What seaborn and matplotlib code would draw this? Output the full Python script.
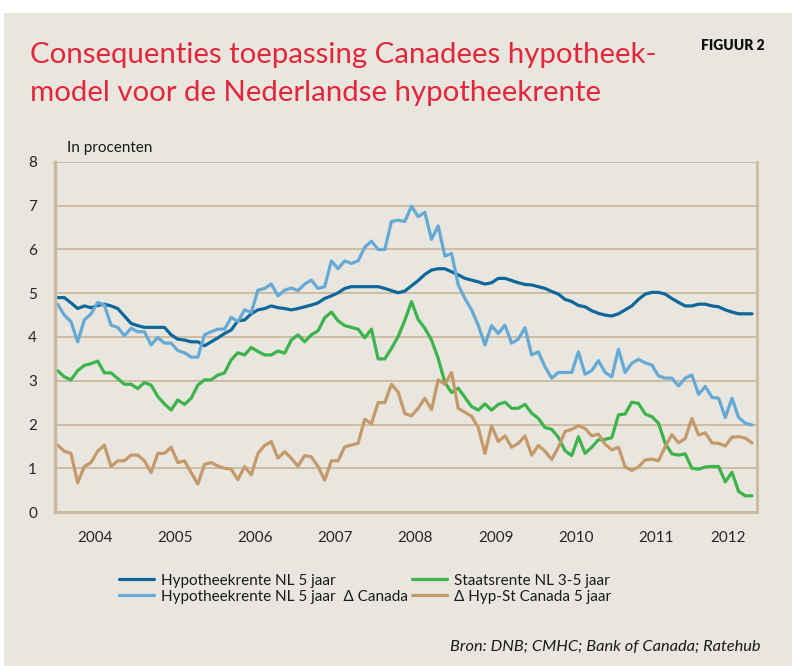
import matplotlib
matplotlib.use("Agg")
import matplotlib.pyplot as plt
from matplotlib.patches import Rectangle
import seaborn as sns
import pandas as pd
import numpy as np

# monthly data, Jan 2004 .. Sep 2012
hyp_nl = [4.90, 4.90, 4.78, 4.65, 4.71, 4.67, 4.72, 4.75, 4.71, 4.65,
          4.48, 4.31, 4.26, 4.22, 4.22, 4.22, 4.22, 4.05, 3.95, 3.93,
          3.89, 3.89, 3.80, 3.89, 3.98, 4.08, 4.16, 4.37, 4.39, 4.53,
          4.62, 4.65, 4.71, 4.67, 4.65, 4.62, 4.65, 4.69, 4.73, 4.78,
          4.88, 4.94, 5.01, 5.11, 5.15, 5.15, 5.15, 5.15, 5.15, 5.11,
          5.06, 5.01, 5.05, 5.17, 5.29, 5.43, 5.53, 5.56, 5.56, 5.49,
          5.42, 5.34, 5.30, 5.26, 5.21, 5.24, 5.34, 5.34, 5.29, 5.24,
          5.20, 5.19, 5.15, 5.11, 5.04, 4.98, 4.86, 4.81, 4.72, 4.69,
          4.60, 4.54, 4.50, 4.48, 4.53, 4.62, 4.71, 4.86, 4.98, 5.02,
          5.02, 4.98, 4.88, 4.79, 4.71, 4.71, 4.75, 4.75, 4.71, 4.69,
          4.62, 4.57, 4.53, 4.53, 4.53]
hyp_nl_ca = [4.75, 4.50, 4.35, 3.89, 4.39, 4.53, 4.79, 4.73, 4.27, 4.22,
             4.03, 4.20, 4.12, 4.12, 3.82, 3.99, 3.86, 3.86, 3.69, 3.64,
             3.54, 3.54, 4.05, 4.12, 4.18, 4.18, 4.45, 4.35, 4.62, 4.56,
             5.07, 5.11, 5.21, 4.94, 5.07, 5.12, 5.06, 5.21, 5.30, 5.11,
             5.15, 5.74, 5.56, 5.74, 5.68, 5.74, 6.05, 6.19, 6.00, 6.00,
             6.64, 6.67, 6.64, 6.99, 6.75, 6.85, 6.23, 6.54, 5.85, 5.91,
             5.19, 4.88, 4.62, 4.27, 3.82, 4.26, 4.08, 4.27, 3.86, 3.95,
             4.21, 3.59, 3.66, 3.32, 3.06, 3.19, 3.19, 3.19, 3.66, 3.15,
             3.23, 3.46, 3.19, 3.09, 3.72, 3.19, 3.40, 3.49, 3.41, 3.36,
             3.11, 3.06, 3.06, 2.88, 3.06, 3.13, 2.69, 2.87, 2.62, 2.60,
             2.16, 2.60, 2.16, 2.03, 1.99]
staat_nl = [3.23, 3.09, 3.02, 3.23, 3.35, 3.39, 3.45, 3.18, 3.18, 3.05,
            2.92, 2.92, 2.82, 2.96, 2.90, 2.64, 2.47, 2.33, 2.56, 2.46,
            2.60, 2.90, 3.02, 3.02, 3.13, 3.18, 3.48, 3.64, 3.59, 3.76,
            3.67, 3.59, 3.59, 3.68, 3.63, 3.93, 4.05, 3.89, 4.05, 4.14,
            4.44, 4.57, 4.37, 4.26, 4.22, 4.18, 3.98, 4.18, 3.50, 3.50,
            3.74, 4.01, 4.38, 4.81, 4.40, 4.20, 3.93, 3.51, 2.96, 2.73,
            2.83, 2.62, 2.41, 2.33, 2.47, 2.33, 2.46, 2.51, 2.37, 2.37,
            2.46, 2.26, 2.14, 1.93, 1.89, 1.71, 1.40, 1.29, 1.72, 1.34,
            1.48, 1.65, 1.66, 1.70, 2.22, 2.24, 2.51, 2.48, 2.24, 2.18,
            2.03, 1.57, 1.33, 1.30, 1.33, 1.00, 0.98, 1.03, 1.04, 1.04,
            0.69, 0.91, 0.47, 0.37, 0.37]
delta_ca = [1.53, 1.39, 1.34, 0.67, 1.04, 1.13, 1.39, 1.53, 1.04, 1.17,
            1.17, 1.30, 1.30, 1.17, 0.90, 1.34, 1.34, 1.48, 1.13, 1.17,
            0.90, 0.64, 1.09, 1.13, 1.05, 1.00, 0.98, 0.74, 1.04, 0.85,
            1.34, 1.52, 1.61, 1.23, 1.38, 1.23, 1.05, 1.29, 1.26, 1.04,
            0.73, 1.17, 1.17, 1.49, 1.53, 1.57, 2.12, 2.02, 2.50, 2.50,
            2.92, 2.74, 2.25, 2.20, 2.37, 2.60, 2.34, 3.02, 2.92, 3.19,
            2.37, 2.28, 2.19, 1.93, 1.34, 1.97, 1.61, 1.74, 1.48, 1.57,
            1.74, 1.30, 1.52, 1.39, 1.20, 1.48, 1.84, 1.89, 1.97, 1.91,
            1.74, 1.78, 1.55, 1.42, 1.48, 1.03, 0.95, 1.03, 1.19, 1.21,
            1.17, 1.49, 1.77, 1.58, 1.68, 2.14, 1.76, 1.81, 1.58, 1.57,
            1.51, 1.71, 1.72, 1.69, 1.58]

labels = ["Hypotheekrente NL 5 jaar",
          "Hypotheekrente NL 5 jaar  \u0394 Canada",
          "Staatsrente NL 3-5 jaar",
          "\u0394 Hyp-St Canada 5 jaar"]
colors = ["#0D679B", "#65AAD6", "#3CB44B", "#C59A6A"]
years = list(range(2004, 2013))

months = np.arange(len(hyp_nl))
t = 2004 + (months + 0.4) / 12
df = pd.concat([pd.DataFrame({"t": t, "value": v, "serie": lab})
                for v, lab in zip([hyp_nl, hyp_nl_ca, staat_nl, delta_ca], labels)])

bg = "#E8E6DE"
grid_c = "#C9B99E"
sns.set_theme(style="white")
plt.rcParams['font.family'] = ['Lato', 'DejaVu Sans']
plt.rcParams['text.color'] = '#1a1a1a'

fig = plt.figure(figsize=(7.92, 6.66), dpi=100, facecolor="white")
fig.patches.append(Rectangle((0.005, 0), 0.995, 0.9805, transform=fig.transFigure,
                             facecolor=bg, edgecolor="none", zorder=-10))
ax = fig.add_axes([0.0694, 0.2312, 0.8864, 0.5256])
ax.set_facecolor(bg)

sns.lineplot(data=df, x="t", y="value", hue="serie", hue_order=labels,
             palette=dict(zip(labels, colors)), linewidth=2.3, ax=ax,
             legend=False, sort=False)

ax.set_ylim(0, 8)
ax.set_xlim(2004, 2004 + 105.15 / 12)
ax.set_yticks(range(0, 9))
ax.yaxis.grid(True, color=grid_c, linewidth=1.3)
ax.set_axisbelow(True)
ax.set_xlabel("")
ax.set_ylabel("")
ax.tick_params(axis="y", length=0, pad=13, labelsize=11)

for side in ["left", "right", "bottom"]:
    ax.spines[side].set_color(grid_c)
    ax.spines[side].set_linewidth(2)
ax.spines["top"].set_visible(False)
ax.spines["left"].set_linewidth(2.5)

ax.set_xticks(years)
ax.set_xticklabels([])
ax.set_xticks(np.arange(2004, 2012.8, 1 / 12), minor=True)
ax.tick_params(axis="x", which="major", length=11, width=1.2, color=grid_c)
ax.tick_params(axis="x", which="minor", length=4.5, width=1, color=grid_c)

sec = ax.secondary_xaxis("bottom")
sec.set_xticks([y + 0.5 for y in years[:-1]] + [2012.4])
sec.set_xticklabels([str(y) for y in years])
sec.tick_params(length=0, pad=14, labelsize=11)
sec.spines["bottom"].set_visible(False)

fig.text(0.038, 0.905, "Consequenties toepassing Canadees hypotheek-",
         color="#E3263A", fontsize=21.2, va="baseline")
fig.text(0.038, 0.849, "model voor de Nederlandse hypotheekrente",
         color="#E3263A", fontsize=21.2, va="baseline")
fig.text(0.966, 0.925, "FIGUUR 2", fontsize=10, fontweight="heavy",
         ha="right", va="baseline", color="#111111")
fig.text(0.085, 0.772, "In procenten", fontsize=11, va="baseline")

handles = [plt.Line2D([], [], color=c, linewidth=2.3) for c in colors]
fig.legend(handles, labels, ncol=2, loc="upper left",
           bbox_to_anchor=(0.14, 0.15), frameon=False, fontsize=11,
           handlelength=2.3, handletextpad=0.45, labelspacing=0.12,
           columnspacing=0.3, borderpad=0)

fig.text(0.96, 0.022, "Bron: DNB; CMHC; Bank of Canada; Ratehub",
         fontsize=11.8, style="italic", ha="right", va="baseline")

fig.savefig("out.png", dpi=100, facecolor="white")
